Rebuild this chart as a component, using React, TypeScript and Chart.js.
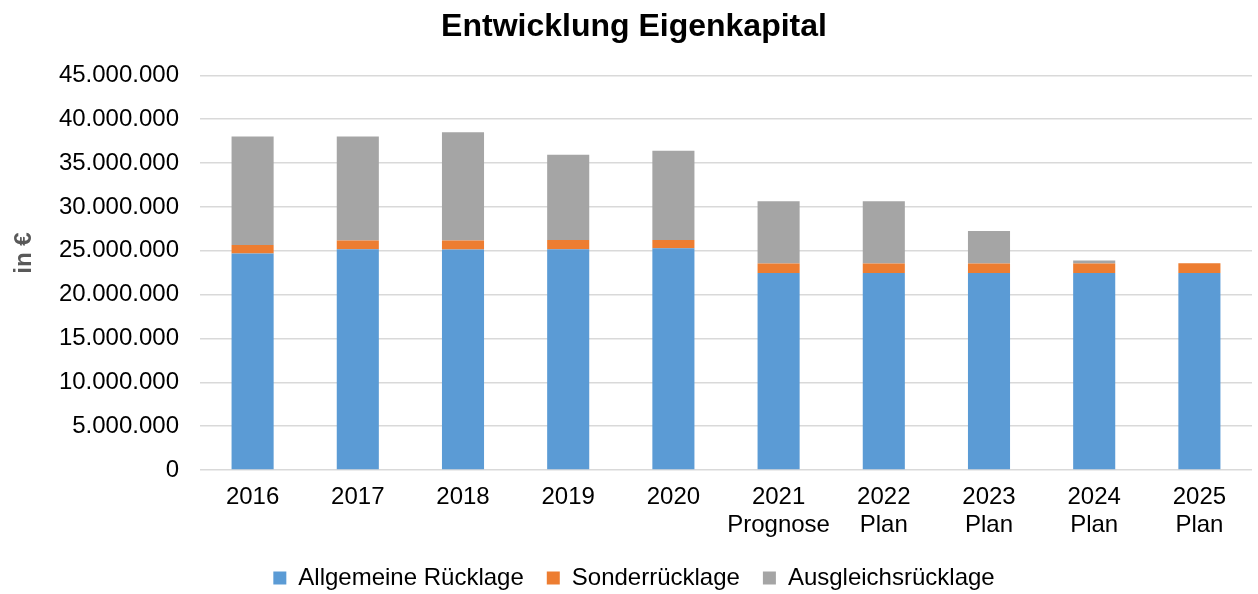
import React, { useEffect, useRef } from "react";
import { Chart, registerables } from "chart.js";

Chart.register(...registerables);

const categories: (string | string[])[] = [
  "2016",
  "2017",
  "2018",
  "2019",
  "2020",
  ["2021", "Prognose"],
  ["2022", "Plan"],
  ["2023", "Plan"],
  ["2024", "Plan"],
  ["2025", "Plan"],
];

const allgemeineRuecklage = [
  24680000, 25170000, 25140000, 25170000, 25280000, 22470000, 22470000, 22470000, 22470000, 22470000,
];
const sonderRuecklage = [
  980000, 990000, 1020000, 1060000, 950000, 1070000, 1070000, 1070000, 1070000, 1110000,
];
const ausgleichsRuecklage = [
  12380000, 11880000, 12370000, 9730000, 10180000, 7100000, 7100000, 3720000, 340000, 0,
];

const seriesNames = ["Allgemeine Rücklage", "Sonderrücklage", "Ausgleichsrücklage"];
const seriesColors = ["#5B9BD5", "#ED7D31", "#A5A5A5"];

const chartTitle = "Entwicklung Eigenkapital";
const yAxisTitle = "in €";
const yMax = 45000000;
const yStep = 5000000;

const FONT = "'Liberation Sans', Arial, sans-serif";

function formatDe(v: number): string {
  return String(Math.round(v)).replace(/\B(?=(\d{3})+(?!\d))/g, ".");
}

const yTitlePlugin = {
  id: "yTitlePlugin",
  afterDraw(chart: any) {
    const ctx = chart.ctx;
    ctx.save();
    ctx.translate(24, 253);
    ctx.rotate(-Math.PI / 2);
    ctx.font = `bold 24px ${FONT}`;
    ctx.fillStyle = "#595959";
    ctx.textAlign = "center";
    ctx.textBaseline = "middle";
    ctx.fillText(yAxisTitle, 0, 0);
    ctx.restore();
  },
};

export default function App() {
  const canvasRef = useRef<HTMLCanvasElement | null>(null);

  useEffect(() => {
    if (!canvasRef.current) return;
    const data = [allgemeineRuecklage, sonderRuecklage, ausgleichsRuecklage];
    const chart = new Chart(canvasRef.current, {
      type: "bar",
      data: {
        labels: categories as any,
        datasets: seriesNames.map((name, i) => ({
          label: name,
          data: data[i],
          backgroundColor: seriesColors[i],
          borderWidth: 0,
          barPercentage: 0.4,
          categoryPercentage: 1,
        })),
      },
      options: {
        responsive: false,
        animation: false,
        layout: { padding: { left: 16, right: 6, top: 0, bottom: -6 } },
        plugins: {
          title: {
            display: true,
            text: chartTitle,
            color: "#000",
            font: { family: FONT, size: 32, weight: "bold", lineHeight: 1.2 },
            padding: { top: 8, bottom: 29 },
          },
          legend: {
            position: "bottom",
            labels: {
              boxWidth: 13,
              boxHeight: 13,
              padding: 23,
              color: "#000",
              font: { family: FONT, size: 24 },
            },
          },
          tooltip: { enabled: false },
        },
        scales: {
          x: {
            stacked: true,
            grid: { display: false, drawTicks: false },
            border: { display: false },
            ticks: {
              color: "#000",
              font: { family: FONT, size: 24, lineHeight: 1.15 },
              padding: 14,
              maxRotation: 0,
              autoSkip: false,
            },
            afterFit: (scale: any) => {
              scale.height = 73;
            },
          },
          y: {
            stacked: true,
            min: 0,
            max: yMax,
            grid: { color: "#d9d9d9", lineWidth: 1.5, drawTicks: false },
            border: { display: false },
            ticks: {
              stepSize: yStep,
              color: "#000",
              font: { family: FONT, size: 24 },
              padding: 21,
              callback: (v: any) => formatDe(Number(v)),
            },
            afterFit: (scale: any) => {
              scale.width = 184;
            },
          },
        },
      },
      plugins: [yTitlePlugin],
    });
    return () => chart.destroy();
  }, []);

  return (
    <div style={{ position: "absolute", left: 0, top: 0, width: 1258, height: 594, background: "#fff" }}>
      <canvas ref={canvasRef} width={1258} height={594} style={{ display: "block" }} />
    </div>
  );
}
